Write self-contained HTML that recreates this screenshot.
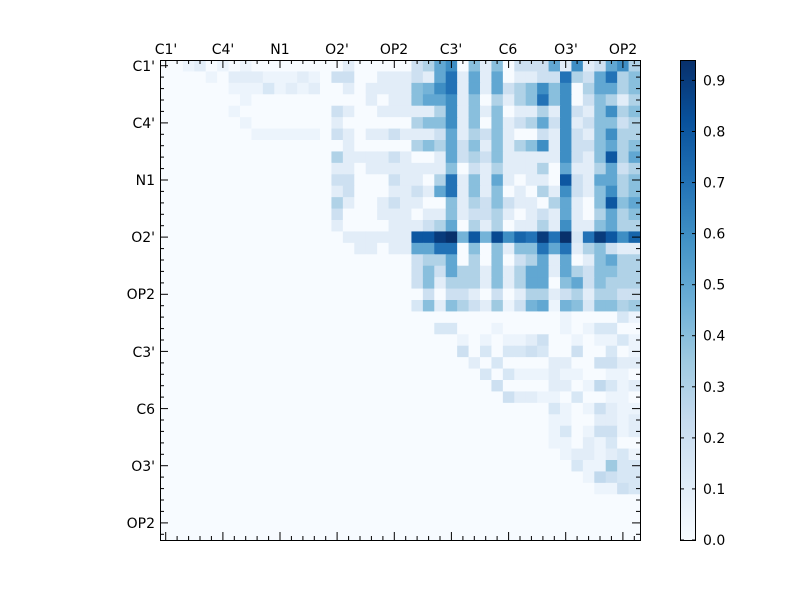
<!DOCTYPE html>
<html><head><meta charset="utf-8"><style>
body{margin:0;background:#fff;}
svg text{font-family:"DejaVu Sans","Liberation Sans",sans-serif;font-size:14px;fill:#000;}
</style></head><body>
<svg id="s" width="800" height="600" xmlns="http://www.w3.org/2000/svg">
<defs><linearGradient id="cb" x1="0" y1="1" x2="0" y2="0">
<stop offset="0" stop-color="#f7fbff"/><stop offset="0.125" stop-color="#deebf7"/><stop offset="0.25" stop-color="#c6dbef"/><stop offset="0.375" stop-color="#9ecae1"/><stop offset="0.5" stop-color="#6baed6"/><stop offset="0.625" stop-color="#4292c6"/><stop offset="0.75" stop-color="#2171b5"/><stop offset="0.875" stop-color="#08519c"/><stop offset="1" stop-color="#08306b"/>
</linearGradient></defs>
<rect x="0" y="0" width="800" height="600" fill="#fff"/>
<g id="cells"></g>
<rect x="160.5" y="60.5" width="480" height="480" fill="none" stroke="#000" stroke-width="1"/>
<g id="ticks" stroke="#000" stroke-width="1"></g>
<text x="166" y="54" text-anchor="middle">C1'</text>
<text x="223" y="54" text-anchor="middle">C4'</text>
<text x="280" y="54" text-anchor="middle">N1</text>
<text x="337" y="54" text-anchor="middle">O2'</text>
<text x="394" y="54" text-anchor="middle">OP2</text>
<text x="451" y="54" text-anchor="middle">C3'</text>
<text x="508" y="54" text-anchor="middle">C6</text>
<text x="566" y="54" text-anchor="middle">O3'</text>
<text x="623" y="54" text-anchor="middle">OP2</text>
<text x="155" y="71" text-anchor="end">C1'</text>
<text x="155" y="128" text-anchor="end">C4'</text>
<text x="155" y="185" text-anchor="end">N1</text>
<text x="155" y="242" text-anchor="end">O2'</text>
<text x="155" y="299" text-anchor="end">OP2</text>
<text x="155" y="357" text-anchor="end">C3'</text>
<text x="155" y="414" text-anchor="end">C6</text>
<text x="155" y="471" text-anchor="end">O3'</text>
<text x="155" y="528" text-anchor="end">OP2</text>
<rect x="680.5" y="60.5" width="15" height="480" fill="url(#cb)" stroke="#000" stroke-width="1"/>
<g id="cbt" stroke="#000" stroke-width="1"></g>
<g id="cbl"></g>
</svg>
<script>
var R=[
"00120101000000"+"0020000046ac08"+"280444a2c24ac6",
"00001022211121"+"0440022242ae2a"+"2a02244e64ae68",
"00000011131212"+"0020222289ce2a"+"2a468c8c06aa68",
"00000001000000"+"000020228aac28"+"06268e8c048626",
"00000010000000"+"04200222226c28"+"2802262c428c68",
"00000001000000"+"02000000688c28"+"08246a4c248846",
"00000000111111"+"04202242224a26"+"4820042c428c66",
"00000000000000"+"00200000686a48"+"28268c2c448a68",
"00000000000000"+"06222242002a46"+"4822222c428g6a",
"00000000000000"+"02202222222804"+"2622260a226a46",
"00000000000000"+"04400042206e28"+"2a20220g42aa68",
"00000000000000"+"0240002242ae28"+"2802062c428c68",
"00000000000000"+"06200242200826"+"4842206a208g8a",
"00000000000000"+"04000222022824"+"4620242a206a68",
"00000000000000"+"02000022246a06"+"2602262c228a66",
"00000000000000"+"00222222ggij9g"+"9hcfeiej3eigcf",
"00000000000000"+"00022022aaee08"+"08288eae268422",
"00000000000000"+"00000000466a06"+"08046a2a028a66",
"00000000000000"+"00000000484a66"+"2826aa2a648866",
"00000000000000"+"00000000482666"+"2826aa08a48666",
"00000000000000"+"00000000040442"+"04026624626644",
"00000000000000"+"00000000382864"+"27149a19838867",
"000000000000000000000"+"000000000000001000031",
"000000000000000000000"+"000330001000001013300",
"000000000000000000000"+"000001010112400101131",
"000000000000000000000"+"000004030334300400301",
"000000000000000000000"+"000000203000022004422",
"000000000000000000000"+"000000030311121100110",
"000000000000000000000"+"000000004000022015312",
"000000000000000000000"+"000000000422110300110",
"000000000000000000000"+"000000000000031014211",
"000000000000000000000"+"000000000000011002212",
"000000000000000000000"+"000000000000013014412",
"000000000000000000000"+"000000000000011021300",
"000000000000000000000"+"000000000000001221231",
"000000000000000000000"+"000000000000000311733",
"000000000000000000000"+"000000000000000015433",
"000000000000000000000"+"000000000000000001143",
"000000000000000000000"+"000000000000000000000"
];
while(R.length<42)R.push("000000000000000000000000000000000000000000");
var ch="0123456789abcdefghij";
var st=[[0,[247,251,255]],[.125,[222,235,247]],[.25,[198,219,239]],[.375,[158,202,225]],[.5,[107,174,214]],[.625,[66,146,198]],[.75,[33,113,181]],[.875,[8,81,156]],[1,[8,48,107]]];
function col(v){var t=Math.min(1,v/0.94);for(var i=1;i<st.length;i++){if(t<=st[i][0]){var a=st[i-1],b=st[i],f=(t-a[0])/(b[0]-a[0]);return"rgb("+[0,1,2].map(function(k){return Math.round(a[1][k]+(b[1][k]-a[1][k])*f)}).join(",")+")";}}return"rgb(8,48,107)";}
var ns="http://www.w3.org/2000/svg",g=document.getElementById("cells"),c=480/42;
for(var r=0;r<42;r++)for(var k=0;k<42;k++){var d=ch.indexOf(R[r][k]||"0");if(d<0)d=0;var e=document.createElementNS(ns,"rect");
var x0=160+k*c,y0=60+r*c;e.setAttribute("x",x0.toFixed(2));e.setAttribute("y",y0.toFixed(2));e.setAttribute("width",(c+0.6).toFixed(2));e.setAttribute("height",(c+0.6).toFixed(2));e.setAttribute("fill",col(d*0.05));g.appendChild(e);}
var tk=document.getElementById("ticks"),s="";
for(var i=0;i<42;i++){var p=(160+(i+0.5)*c).toFixed(1),q=(60+(i+0.5)*c).toFixed(1),L=(i%5==0)?8:4;
s+='<line x1="'+p+'" y1="60" x2="'+p+'" y2="'+(60+L)+'"/>';
s+='<line x1="'+p+'" y1="540" x2="'+p+'" y2="'+(540-L)+'"/>';
s+='<line x1="160" y1="'+q+'" x2="'+(160+L)+'" y2="'+q+'"/>';
s+='<line x1="640" y1="'+q+'" x2="'+(640-L)+'" y2="'+q+'"/>';}
tk.innerHTML=s;
var cbt="",cbl="";
for(var j=0;j<=9;j++){var y=540-j*0.1/0.94*480;cbt+='<line x1="692" y1="'+y.toFixed(1)+'" x2="696" y2="'+y.toFixed(1)+'"/><line x1="680" y1="'+y.toFixed(1)+'" x2="684" y2="'+y.toFixed(1)+'"/>';
cbl+='<text x="703" y="'+(y+5).toFixed(1)+'">'+(j/10).toFixed(1)+'</text>';}
document.getElementById("cbt").innerHTML=cbt;document.getElementById("cbl").innerHTML=cbl;
</script>
</body></html>
